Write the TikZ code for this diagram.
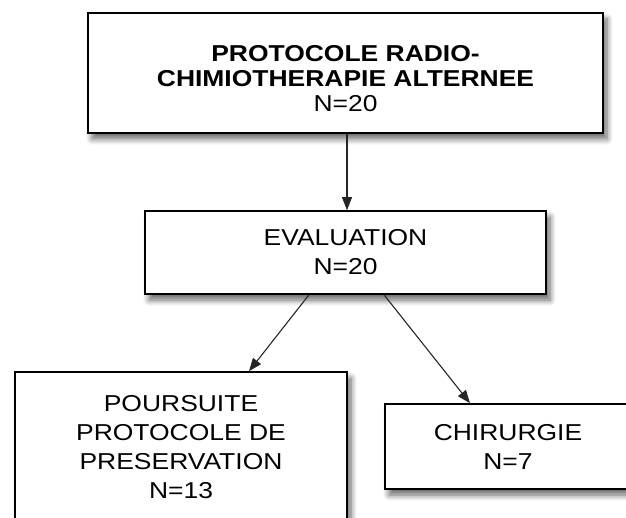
\documentclass[tikz,border=0pt]{standalone}
\usepackage{fontspec}
\setmainfont[FakeStretch=1.15]{Liberation Sans}
\usetikzlibrary{arrows.meta,shadows.blur}

\tikzset{
  boite/.style={draw=black, line width=1.6, fill=white, align=center, inner sep=0pt,
    blur shadow={shadow xshift=4pt, shadow yshift=-6pt, shadow blur radius=6pt,
      shadow blur steps=8, shadow opacity=60}},
  texte/.style={font=\fontsize{23}{29}\selectfont},
  fleche/.style={line width=1.1, color=black!85, -{Triangle[length=13pt, width=10pt]}},
}

\begin{document}
\begin{tikzpicture}[x=1pt, y=-1pt]

  % Cadre de la figure
  \useasboundingbox (0,0) rectangle (626,518);
  \clip (0,0) rectangle (626,518);

  %%%%%%%%%%%%%%%%%%%%%%%%%%%%%%%% Boites %%%%%%%%%%%%%%%%%%%%%%%%%%%%%%%%
  \draw (345.5,73) node[boite, minimum width=515, minimum height=120,
    font=\fontsize{23}{25}\selectfont, text height=77, text depth=0] (proto)
    {\textbf{PROTOCOLE RADIO-}\\\textbf{CHIMIOTHERAPIE ALTERNEE}\\N=20} ;

  \draw (345.5,252.5) node[boite, texte, minimum width=401, minimum height=83] (eval)
    {EVALUATION\\N=20} ;

  \draw (181,447.5) node[boite, texte, minimum width=332, minimum height=151] (suite)
    {POURSUITE\\PROTOCOLE DE\\PRESERVATION\\N=13} ;

  \draw (508,446.5) node[boite, texte, minimum width=246, minimum height=85] (chir)
    {CHIRURGIE\\N=7} ;

  %%%%%%%%%%%%%%%%%%%%%%%%%%%%%%%% Fleches %%%%%%%%%%%%%%%%%%%%%%%%%%%%%%%
  \draw[fleche] ([xshift=1.5]proto.south) -- ([xshift=1.5]eval.north) ;
  \draw[fleche] ([xshift=-36.5]eval.south) -- ([xshift=68]suite.north) ;
  \draw[fleche] ([xshift=38.5]eval.south) -- ([xshift=-38]chir.north) ;

\end{tikzpicture}
\end{document}
